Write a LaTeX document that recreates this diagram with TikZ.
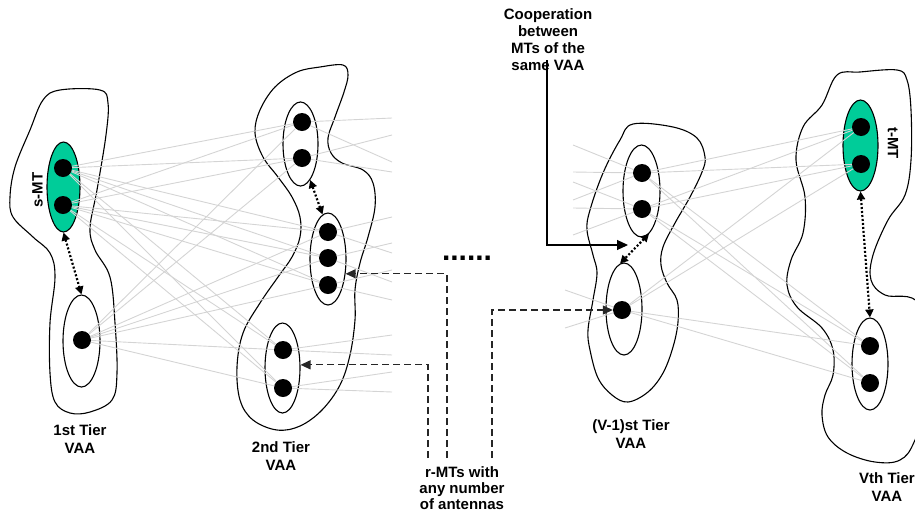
\documentclass[tikz,border=0pt]{standalone}
\usepackage{fontspec}
\setmainfont{Liberation Sans}
\usetikzlibrary{arrows.meta,shapes.geometric}
\definecolor{mtgreen}{RGB}{0,204,153}
\definecolor{linkgray}{RGB}{212,212,212}
\begin{document}
\begin{tikzpicture}[x=1pt,y=-1pt,
  blob/.style={draw=black,line width=1.1pt},
  mtell/.style={draw=black,line width=1.1pt,ellipse,inner sep=0pt},
  antdot/.style={circle,fill=black,inner sep=0pt,minimum size=18pt},
  link/.style={draw=linkgray,line width=0.9pt},
  coopdot/.style={line width=2.2pt,dash pattern=on 2pt off 2pt,
    {Triangle[length=8pt,width=8pt]}-{Triangle[length=8pt,width=8pt]}},
  dasharrow/.style={draw=black!85,line width=1.2pt,dash pattern=on 7pt off 4pt,
    -{Triangle[length=10pt,width=9pt]}},
  coopline/.style={draw=black,line width=1.1pt,-{Triangle[length=11pt,width=10pt]}},
  lbl/.style={font=\fontsize{15}{18}\selectfont\bfseries,align=center,inner sep=0pt},
  lbltight/.style={font=\fontsize{15}{16}\selectfont\bfseries,align=center,inner sep=0pt}
]
\path[use as bounding box,clip] (0,0) rectangle (915,517);

% ---------- VAA outlines ----------
\draw[blob] plot[smooth cycle,tension=0.6] coordinates {
 (60,90) (100,90) (108,103) (106,135) (97,190) (90,228) (95,250) (110,277)
 (115,323) (117,373) (112,400) (90,412) (70,413) (55,402) (50,373) (50,323)
 (55,277) (50,253) (33,237) (13,217) (10,197) (15,167) (30,130) (43,100)};
\draw[blob] plot[smooth cycle,tension=0.6] coordinates {
 (255,133) (260,110) (275,87) (297,72) (320,67) (343,65) (348,75) (344,92)
 (335,117) (328,138) (331,153) (342,163) (363,170) (373,183) (375,207)
 (368,237) (360,263) (355,290) (355,320) (350,355) (340,385) (322,410)
 (300,426) (277,430) (253,420) (240,400) (237,367) (243,333) (260,303)
 (278,277) (292,257) (300,237) (300,217) (292,197) (278,177) (263,157)};
\draw[blob] plot[smooth cycle,tension=0.6] coordinates {
 (633,124) (673,127) (697,138) (705,157) (702,172) (690,197) (675,223)
 (663,247) (661,265) (667,283) (677,300) (678,322) (673,347) (663,373)
 (648,392) (628,402) (612,395) (598,378) (590,350) (588,330) (593,300)
 (597,273) (593,255) (587,230) (590,210) (603,173) (620,140)};
\draw[blob] plot[smooth cycle,tension=0.6] coordinates {
 (837,75) (860,72) (897,70) (907,80) (911,110) (911,160) (905,195) (888,220)
 (873,255) (871,280) (885,295) (920,305) (935,380) (915,440) (900,460)
 (875,462) (847,453) (828,437) (822,415) (825,395) (833,375) (833,350)
 (822,328) (797,307) (787,285) (791,260) (803,233) (805,197) (796,160)
 (803,127) (822,105)};

% ---------- MT ellipses ----------
\node[mtell,fill=mtgreen,minimum width=33pt,minimum height=90pt] (e1g) at (63.5,187) {};
\node[mtell,minimum width=37pt,minimum height=92pt] (e1) at (81.5,341) {};
\node[mtell,minimum width=35pt,minimum height=84pt] (t2a) at (300.5,144) {};
\node[mtell,minimum width=36pt,minimum height=92pt] (t2b) at (328,259) {};
\node[mtell,minimum width=35pt,minimum height=90pt] (t2c) at (282.5,368) {};
\node[mtell,minimum width=37pt,minimum height=92pt] (ca) at (641.5,191) {};
\node[mtell,minimum width=36pt,minimum height=92pt] (cb) at (624,309) {};
\node[mtell,fill=mtgreen,minimum width=35pt,minimum height=91pt] (vg) at (860.5,145.5) {};
\node[mtell,minimum width=36pt,minimum height=92pt] (vb) at (870,364) {};

% ---------- antennas ----------
\node[antdot] (a1) at (63,168) {};
\node[antdot] (a2) at (63,205) {};
\node[antdot] (a3) at (82,340) {};
\node[antdot] (b1) at (302,122) {};
\node[antdot] (b2) at (302,158) {};
\node[antdot] (b3) at (328,232) {};
\node[antdot] (b4) at (328,258) {};
\node[antdot] (b5) at (328,285) {};
\node[antdot] (b6) at (283,350) {};
\node[antdot] (b7) at (283,388) {};
\node[antdot] (c1) at (642,173) {};
\node[antdot] (c2) at (642,209) {};
\node[antdot] (c3) at (622,310) {};
\node[antdot] (d1) at (861,127) {};
\node[antdot] (d2) at (861,164) {};
\node[antdot] (d3) at (870,346) {};
\node[antdot] (d4) at (870,383) {};

% ---------- links ----------
\foreach \s in {a1,a2,a3}
  \foreach \t in {b1,b2,b3,b4,b5,b6,b7}
    \draw[link] (\s) -- (\t);
\foreach \s/\y [count=\i] in {b1/118,b1/162,b2/135,b2/172,b3/217,b3/253,
    b4/243,b4/282,b5/270,b5/300,b6/335,b6/355,b7/372,b7/392} {
  \coordinate (r\i) at (392,\y);
  \draw[link] (\s) -- (r\i);
}
\foreach \s/\x/\y [count=\i] in {c1/573/145,c1/573/172,c1/573/200,
    c2/573/182,c2/573/208,c2/573/235,c3/565/290,c3/565/328} {
  \coordinate (l\i) at (\x,\y);
  \draw[link] (l\i) -- (\s);
}
\foreach \s in {c1,c2,c3}
  \foreach \t in {d1,d2,d3,d4}
    \draw[link] (\s) -- (\t);

% ---------- intra-VAA cooperation ----------
\draw[coopdot] (e1g.south) -- (e1.north);
\draw[coopdot] (t2a.-75) -- (t2b.97);
\draw[coopdot] (ca.-80) -- (cb.95);
\draw[coopdot] (vg.south) -- (vb.north);

% ---------- labels ----------
\node[font=\fontsize{15}{15}\selectfont\bfseries,rotate=90,inner sep=0pt] (smt) at (37.5,190) {s-MT};
\node[font=\fontsize{15}{15}\selectfont\bfseries,rotate=-90,inner sep=0pt] (tmt) at (893,143) {t-MT};
\node[lbl] (l1) at (80,439) {1st Tier\\VAA};
\node[lbl] (l2) at (281,456) {2nd Tier\\VAA};
\node[lbl] (l3) at (631,434) {(V-1)st Tier\\VAA};
\node[lbl] (l4) at (887,487) {Vth Tier\\VAA};
\node[font=\fontsize{30}{30}\selectfont\bfseries,inner sep=0pt] (dots) at (467,258) {......};
\node[font=\fontsize{15}{17}\selectfont\bfseries,align=center,inner sep=0pt] (coop) at (548,40)
  {Cooperation\\between\\MTs of the\\same VAA};
\node[lbltight] (rmt) at (462,488) {r-MTs with\\any number\\of antennas};

% ---------- pointers ----------
\coordinate (coopstart) at (547,60);
\coordinate (coopend) at (628,245);
\draw[coopline] (coopstart) |- (coopend);
\coordinate (rm1) at (428,458);
\coordinate (rm2) at (447,458);
\coordinate (rm3) at (492,458);
\draw[dasharrow] (rm1) |- (t2c.10);
\draw[dasharrow] (rm2) |- (t2b.-40);
\draw[dasharrow] (rm3) |- (c3.west);
\end{tikzpicture}
\end{document}
